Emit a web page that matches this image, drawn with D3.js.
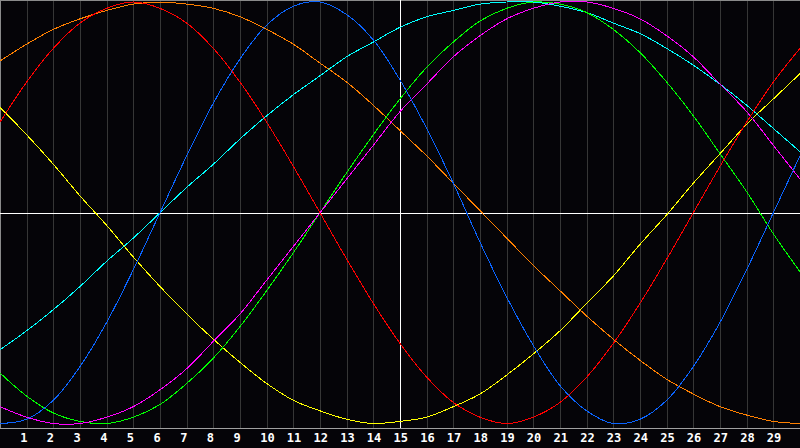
<!DOCTYPE html>
<html>
<head>
<meta charset="utf-8">
<script src="https://cdn.jsdelivr.net/npm/d3@7"></script>
<style>
  html, body { margin: 0; padding: 0; background: #050408; }
  svg { display: block; }
</style>
</head>
<body>
<div id="chart"></div>
<script>
// values in percent, one per day 0..30
const days = d3.range(0, 31);
const dayTicks = d3.range(1, 30);

const red     = [43,62,78,90,97,100,97,90,78,62,43,22,0,-22,-43,-62,-78,-90,-97,-100,-97,-90,-78,-62,-43,-22,0,22,43,62,78];
const blue    = [-100,-98,-89,-73,-52,-27,0,27,52,73,89,98,100,94,82,63,40,14,-14,-40,-63,-82,-94,-100,-98,-89,-73,-52,-27,0,27];
const green   = [-76,-87,-95,-99,-100,-97,-91,-81,-69,-54,-37,-19,0,19,37,54,69,81,91,97,100,99,95,87,76,62,46,28,10,-10,-28];
const magenta = [-92,-97,-100,-100,-97,-92,-84,-74,-61,-48,-32,-16,0,16,32,48,61,74,84,92,97,100,100,97,92,84,74,61,48,32,16];
const cyan    = [-65,-56,-46,-35,-23,-12,0,12,23,35,46,56,65,74,81,88,93,96,99,100,100,98,95,90,85,78,70,61,51,40,29];
const orange  = [72,80,87,92,96,99,100,99,97,93,87,80,71,62,51,39,27,14,1,-12,-25,-37,-49,-60,-70,-79,-86,-92,-96,-99,-100];
const yellow  = [50,37,23,8,-6,-21,-35,-48,-60,-71,-81,-89,-94,-98,-100,-99,-97,-92,-86,-77,-67,-56,-43,-30,-15,-1,14,28,42,54,66];

const seriesList = [
  {name: "yellow", values: yellow, color: "#ffff00"},
  {name: "orange", values: orange, color: "#ff8000"},
  {name: "cyan", values: cyan, color: "#00ffff"},
  {name: "green", values: green, color: "#00ff00"},
  {name: "magenta", values: magenta, color: "#ff00ff"},
  {name: "blue", values: blue, color: "#0a64ff"},
  {name: "red", values: red, color: "#ff0000"}
];

const width = 800,
      height = 448,
      plotBottom = 428;

const svg = d3.select("#chart")
    .append("svg")
    .attr("width", width)
    .attr("height", height)
    .attr("viewBox", [0, 0, width, height]);

svg.append("rect")
    .attr("width", width)
    .attr("height", height)
    .attr("fill", "#050408");

const x = d3.scaleLinear()
    .domain([0, 30])
    .range([0, width]);

const y = d3.scaleLinear()
    .domain([-100, 100])
    .range([423.5, 2]);

// vertical day grid
svg.append("g")
    .selectAll("line")
    .data(dayTicks)
    .join("line")
    .attr("x1", d => Math.round(x(d)) + 0.5)
    .attr("x2", d => Math.round(x(d)) + 0.5)
    .attr("y1", 0)
    .attr("y2", plotBottom)
    .attr("stroke", "#363636");

// frame: top and left
svg.append("line")
    .attr("x1", 0).attr("x2", width)
    .attr("y1", 0.5).attr("y2", 0.5)
    .attr("stroke", "#8a8a8a");
svg.append("line")
    .attr("x1", 0.5).attr("x2", 0.5)
    .attr("y1", 0).attr("y2", plotBottom)
    .attr("stroke", "#8a8a8a");

// center cross (zero line and today)
svg.append("line")
    .attr("x1", 0).attr("x2", width)
    .attr("y1", Math.round(y(0)) + 0.5).attr("y2", Math.round(y(0)) + 0.5)
    .attr("stroke", "#ffffff");
svg.append("line")
    .attr("x1", x(15) + 0.5).attr("x2", x(15) + 0.5)
    .attr("y1", 0).attr("y2", plotBottom)
    .attr("stroke", "#ffffff");

const line = d3.line()
    .x((d, i) => x(days[i]))
    .y(d => y(d))
    .curve(d3.curveCatmullRom);

// aliased 1px curves like the original
svg.append("g")
    .selectAll("path")
    .data(seriesList)
    .join("path")
    .attr("d", s => line(s.values))
    .attr("fill", "none")
    .attr("stroke", s => s.color)
    .attr("stroke-width", 1)
    .attr("shape-rendering", "crispEdges");

// bottom axis with day numbers
const xAxis = g => g
    .attr("transform", `translate(0, ${plotBottom + 0.5})`)
    .call(d3.axisBottom(x).tickValues(dayTicks).tickSize(0).tickFormat(d => d))
    .call(g => g.select(".domain").attr("stroke", "#a0a0a0").attr("d", `M0,0H${width}`))
    .call(g => g.selectAll("text")
        .attr("fill", "#ffffff")
        .attr("text-anchor", "start")
        .attr("dx", -7)
        .attr("y", 5)
        .attr("dy", "0.71em")
        .style("font", "bold 12px 'DejaVu Sans Mono', monospace"));

svg.append("g")
    .call(xAxis);
</script>
</body>
</html>
